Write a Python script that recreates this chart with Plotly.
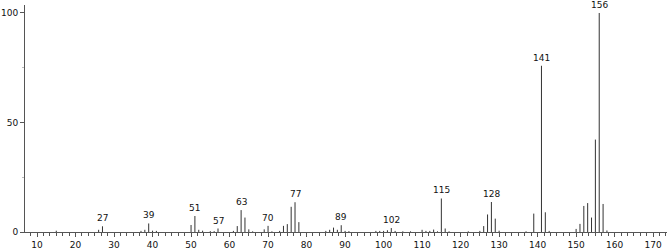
import plotly.graph_objects as go

# m/z values and relative intensities (%)
mz = [15, 26, 27, 37, 38, 39, 40, 41, 50, 51, 52, 53, 55, 56, 57, 61, 62, 63, 64, 65,
      66, 69, 70, 71, 73, 74, 75, 76, 77, 78, 85, 86, 87, 88, 89, 90, 91, 98, 99, 100,
      101, 102, 103, 105, 107, 110, 111, 112, 113, 114, 115, 116, 117, 122, 125, 126,
      127, 128, 129, 130, 137, 139, 141, 142, 143, 150, 151, 152, 153, 154, 155, 156,
      157, 158]
intensity = [0.6, 1.0, 2.6, 0.5, 1.0, 3.9, 0.6, 0.5, 3.2, 7.3, 1.0, 0.6, 0.4, 0.4, 1.6,
             0.5, 2.7, 10.0, 6.6, 1.2, 0.3, 1.2, 2.8, 0.3, 0.5, 2.8, 3.6, 11.5, 13.6, 4.5,
             0.5, 1.0, 2.0, 1.0, 3.1, 0.5, 0.4, 0.5, 0.5, 0.5, 0.8, 1.8, 0.5, 0.3, 0.3,
             1.0, 0.5, 0.5, 1.1, 0.3, 15.3, 1.6, 0.3, 0.3, 0.5, 2.7, 8.0, 13.7, 6.1, 0.6,
             0.3, 8.4, 75.9, 9.0, 0.5, 1.4, 3.7, 11.9, 13.2, 6.6, 42.2, 100.0, 12.8, 0.7]
labeled = [27, 39, 51, 57, 63, 70, 77, 89, 102, 115, 128, 141, 156]

x_ticks = list(range(10, 171, 10))
y_ticks = [0, 50, 100]

xs, ys = [], []
for m, v in zip(mz, intensity):
    xs += [m, m, None]
    ys += [0, v, None]

fig = go.Figure()
fig.add_trace(go.Scatter(x=xs, y=ys, mode="lines",
                         line=dict(color="#333333", width=1),
                         hoverinfo="skip", showlegend=False))

lookup = dict(zip(mz, intensity))
for m in labeled:
    fig.add_annotation(x=m, y=lookup[m], text=str(m), showarrow=False,
                       yanchor="bottom", yshift=1,
                       font=dict(family="DejaVu Sans", size=9, color="#111"))

fig.update_layout(
    width=667, height=249,
    margin=dict(l=25, r=0, t=5, b=17),
    paper_bgcolor="white", plot_bgcolor="white",
    showlegend=False,
    font=dict(family="DejaVu Sans", size=9, color="#111"),
)
fig.update_xaxes(range=[6.88, 173.6], tickvals=x_ticks,
                 ticktext=[str(t) for t in x_ticks],
                 ticks="outside", ticklen=4, tickcolor="#555", tickwidth=1,
                 showline=True, linecolor="#555", linewidth=1,
                 showgrid=False, zeroline=False,
                 minor=dict(tick0=10, dtick=10/6, ticks="outside", ticklen=3,
                            tickcolor="#555", showgrid=False))
fig.update_yaxes(range=[0, 103.65], tickvals=y_ticks,
                 ticktext=[str(t) for t in y_ticks],
                 ticks="outside", ticklen=4, tickcolor="#555", tickwidth=1,
                 showline=True, linecolor="#555", linewidth=1,
                 showgrid=False, zeroline=False,
                 minor=dict(tick0=0, dtick=25, ticks="outside", ticklen=2,
                            tickcolor="#bbb", showgrid=False))

fig.write_html("out.html")
